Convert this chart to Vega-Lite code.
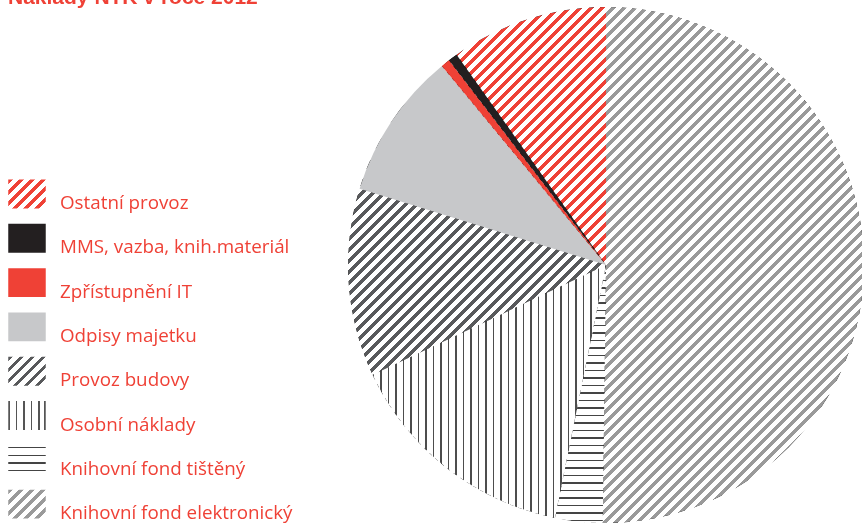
{
"$schema":"https://vega.github.io/schema/vega-lite/v6.json",
"autosize":{"type":"none"},
"padding":{"left":350,"top":7,"right":0,"bottom":1},
"width":512,"height":516,
"background":"white",
"config":{"view":{"stroke":null}},
"title":{"text":"Náklady NTK v roce 2012","anchor":"start","frame":"group","dx":-342,"offset":-18,"font":"Liberation Sans","fontSize":21,"fontWeight":"bold","color":"#ef4136","baseline":"alphabetic"},
"data":{"values":[
{"cat":"Knihovní fond elektronický","pct":50.2,"ord":1},
{"cat":"Knihovní fond tištěný","pct":2.97,"ord":2},
{"cat":"Osobní náklady","pct":14.83,"ord":3},
{"cat":"Provoz budovy","pct":11.78,"ord":4},
{"cat":"Odpisy majetku","pct":9.25,"ord":5},
{"cat":"Zpřístupnění IT","pct":0.56,"ord":6},
{"cat":"MMS, vazba, knih.materiál","pct":0.58,"ord":7},
{"cat":"Ostatní provoz","pct":9.83,"ord":8}
]},
"layer":[
{"transform":[{"filter":"datum.ord == 1"}],
"mark":{"type":"arc","theta":0,"theta2":6.2832,"radius":258,"fill":{"gradient":"linear","x1":0,"y1":0,"x2":1.065891,"y2":1.065891,"stops":[
{"offset":0.13,"color":"#fff"},{"offset":0.13,"color":"#000"},{"offset":0.134,"color":"#000"},{"offset":0.134,"color":"#fff"},
{"offset":0.14,"color":"#fff"},{"offset":0.14,"color":"#000"},{"offset":0.144,"color":"#000"},{"offset":0.144,"color":"#fff"},
{"offset":0.15,"color":"#fff"},{"offset":0.15,"color":"#000"},{"offset":0.154,"color":"#000"},{"offset":0.154,"color":"#fff"},
{"offset":0.16,"color":"#fff"},{"offset":0.16,"color":"#000"},{"offset":0.164,"color":"#000"},{"offset":0.164,"color":"#fff"},
{"offset":0.17,"color":"#fff"},{"offset":0.17,"color":"#000"},{"offset":0.174,"color":"#000"},{"offset":0.174,"color":"#fff"},
{"offset":0.18,"color":"#fff"},{"offset":0.18,"color":"#000"},{"offset":0.184,"color":"#000"},{"offset":0.184,"color":"#fff"},
{"offset":0.19,"color":"#fff"},{"offset":0.19,"color":"#000"},{"offset":0.194,"color":"#000"},{"offset":0.194,"color":"#fff"},
{"offset":0.20,"color":"#fff"},{"offset":0.20,"color":"#000"},{"offset":0.204,"color":"#000"},{"offset":0.204,"color":"#fff"},
{"offset":0.21,"color":"#fff"},{"offset":0.21,"color":"#000"},{"offset":0.214,"color":"#000"},{"offset":0.214,"color":"#fff"},
{"offset":0.22,"color":"#fff"},{"offset":0.22,"color":"#000"},{"offset":0.224,"color":"#000"},{"offset":0.224,"color":"#fff"},
{"offset":0.23,"color":"#fff"},{"offset":0.23,"color":"#000"},{"offset":0.234,"color":"#000"},{"offset":0.234,"color":"#fff"},
{"offset":0.24,"color":"#fff"},{"offset":0.24,"color":"#000"},{"offset":0.244,"color":"#000"},{"offset":0.244,"color":"#fff"},
{"offset":0.25,"color":"#fff"},{"offset":0.25,"color":"#000"},{"offset":0.254,"color":"#000"},{"offset":0.254,"color":"#fff"},
{"offset":0.26,"color":"#fff"},{"offset":0.26,"color":"#000"},{"offset":0.264,"color":"#000"},{"offset":0.264,"color":"#fff"},
{"offset":0.27,"color":"#fff"},{"offset":0.27,"color":"#000"},{"offset":0.274,"color":"#000"},{"offset":0.274,"color":"#fff"},
{"offset":0.28,"color":"#fff"},{"offset":0.28,"color":"#000"},{"offset":0.284,"color":"#000"},{"offset":0.284,"color":"#fff"},
{"offset":0.29,"color":"#fff"},{"offset":0.29,"color":"#000"},{"offset":0.294,"color":"#000"},{"offset":0.294,"color":"#fff"},
{"offset":0.30,"color":"#fff"},{"offset":0.30,"color":"#000"},{"offset":0.304,"color":"#000"},{"offset":0.304,"color":"#fff"},
{"offset":0.31,"color":"#fff"},{"offset":0.31,"color":"#000"},{"offset":0.314,"color":"#000"},{"offset":0.314,"color":"#fff"},
{"offset":0.32,"color":"#fff"},{"offset":0.32,"color":"#000"},{"offset":0.324,"color":"#000"},{"offset":0.324,"color":"#fff"},
{"offset":0.33,"color":"#fff"},{"offset":0.33,"color":"#000"},{"offset":0.334,"color":"#000"},{"offset":0.334,"color":"#fff"},
{"offset":0.34,"color":"#fff"},{"offset":0.34,"color":"#000"},{"offset":0.344,"color":"#000"},{"offset":0.344,"color":"#fff"},
{"offset":0.35,"color":"#fff"},{"offset":0.35,"color":"#000"},{"offset":0.354,"color":"#000"},{"offset":0.354,"color":"#fff"},
{"offset":0.36,"color":"#fff"},{"offset":0.36,"color":"#000"},{"offset":0.364,"color":"#000"},{"offset":0.364,"color":"#fff"},
{"offset":0.37,"color":"#fff"},{"offset":0.37,"color":"#000"},{"offset":0.374,"color":"#000"},{"offset":0.374,"color":"#fff"},
{"offset":0.38,"color":"#fff"},{"offset":0.38,"color":"#000"},{"offset":0.384,"color":"#000"},{"offset":0.384,"color":"#fff"},
{"offset":0.39,"color":"#fff"},{"offset":0.39,"color":"#000"},{"offset":0.394,"color":"#000"},{"offset":0.394,"color":"#fff"},
{"offset":0.40,"color":"#fff"},{"offset":0.40,"color":"#000"},{"offset":0.404,"color":"#000"},{"offset":0.404,"color":"#fff"},
{"offset":0.41,"color":"#fff"},{"offset":0.41,"color":"#000"},{"offset":0.414,"color":"#000"},{"offset":0.414,"color":"#fff"},
{"offset":0.42,"color":"#fff"},{"offset":0.42,"color":"#000"},{"offset":0.424,"color":"#000"},{"offset":0.424,"color":"#fff"},
{"offset":0.43,"color":"#fff"},{"offset":0.43,"color":"#000"},{"offset":0.434,"color":"#000"},{"offset":0.434,"color":"#fff"},
{"offset":0.44,"color":"#fff"},{"offset":0.44,"color":"#000"},{"offset":0.444,"color":"#000"},{"offset":0.444,"color":"#fff"},
{"offset":0.45,"color":"#fff"},{"offset":0.45,"color":"#000"},{"offset":0.454,"color":"#000"},{"offset":0.454,"color":"#fff"},
{"offset":0.46,"color":"#fff"},{"offset":0.46,"color":"#000"},{"offset":0.464,"color":"#000"},{"offset":0.464,"color":"#fff"},
{"offset":0.47,"color":"#fff"},{"offset":0.47,"color":"#000"},{"offset":0.474,"color":"#000"},{"offset":0.474,"color":"#fff"},
{"offset":0.48,"color":"#fff"},{"offset":0.48,"color":"#000"},{"offset":0.484,"color":"#000"},{"offset":0.484,"color":"#fff"},
{"offset":0.49,"color":"#fff"},{"offset":0.49,"color":"#000"},{"offset":0.494,"color":"#000"},{"offset":0.494,"color":"#fff"},
{"offset":0.50,"color":"#fff"},{"offset":0.50,"color":"#000"},{"offset":0.504,"color":"#000"},{"offset":0.504,"color":"#fff"},
{"offset":0.51,"color":"#fff"},{"offset":0.51,"color":"#000"},{"offset":0.514,"color":"#000"},{"offset":0.514,"color":"#fff"},
{"offset":0.52,"color":"#fff"},{"offset":0.52,"color":"#000"},{"offset":0.524,"color":"#000"},{"offset":0.524,"color":"#fff"},
{"offset":0.53,"color":"#fff"},{"offset":0.53,"color":"#000"},{"offset":0.534,"color":"#000"},{"offset":0.534,"color":"#fff"},
{"offset":0.54,"color":"#fff"},{"offset":0.54,"color":"#000"},{"offset":0.544,"color":"#000"},{"offset":0.544,"color":"#fff"},
{"offset":0.55,"color":"#fff"},{"offset":0.55,"color":"#000"},{"offset":0.554,"color":"#000"},{"offset":0.554,"color":"#fff"},
{"offset":0.56,"color":"#fff"},{"offset":0.56,"color":"#000"},{"offset":0.564,"color":"#000"},{"offset":0.564,"color":"#fff"},
{"offset":0.57,"color":"#fff"},{"offset":0.57,"color":"#000"},{"offset":0.574,"color":"#000"},{"offset":0.574,"color":"#fff"},
{"offset":0.58,"color":"#fff"},{"offset":0.58,"color":"#000"},{"offset":0.584,"color":"#000"},{"offset":0.584,"color":"#fff"},
{"offset":0.59,"color":"#fff"},{"offset":0.59,"color":"#000"},{"offset":0.594,"color":"#000"},{"offset":0.594,"color":"#fff"},
{"offset":0.60,"color":"#fff"},{"offset":0.60,"color":"#000"},{"offset":0.604,"color":"#000"},{"offset":0.604,"color":"#fff"},
{"offset":0.61,"color":"#fff"},{"offset":0.61,"color":"#000"},{"offset":0.614,"color":"#000"},{"offset":0.614,"color":"#fff"},
{"offset":0.62,"color":"#fff"},{"offset":0.62,"color":"#000"},{"offset":0.624,"color":"#000"},{"offset":0.624,"color":"#fff"},
{"offset":0.63,"color":"#fff"},{"offset":0.63,"color":"#000"},{"offset":0.634,"color":"#000"},{"offset":0.634,"color":"#fff"},
{"offset":0.64,"color":"#fff"},{"offset":0.64,"color":"#000"},{"offset":0.644,"color":"#000"},{"offset":0.644,"color":"#fff"},
{"offset":0.65,"color":"#fff"},{"offset":0.65,"color":"#000"},{"offset":0.654,"color":"#000"},{"offset":0.654,"color":"#fff"},
{"offset":0.66,"color":"#fff"},{"offset":0.66,"color":"#000"},{"offset":0.664,"color":"#000"},{"offset":0.664,"color":"#fff"},
{"offset":0.67,"color":"#fff"},{"offset":0.67,"color":"#000"},{"offset":0.674,"color":"#000"},{"offset":0.674,"color":"#fff"},
{"offset":0.68,"color":"#fff"},{"offset":0.68,"color":"#000"},{"offset":0.684,"color":"#000"},{"offset":0.684,"color":"#fff"},
{"offset":0.69,"color":"#fff"},{"offset":0.69,"color":"#000"},{"offset":0.694,"color":"#000"},{"offset":0.694,"color":"#fff"},
{"offset":0.70,"color":"#fff"},{"offset":0.70,"color":"#000"},{"offset":0.704,"color":"#000"},{"offset":0.704,"color":"#fff"},
{"offset":0.71,"color":"#fff"},{"offset":0.71,"color":"#000"},{"offset":0.714,"color":"#000"},{"offset":0.714,"color":"#fff"},
{"offset":0.72,"color":"#fff"},{"offset":0.72,"color":"#000"},{"offset":0.724,"color":"#000"},{"offset":0.724,"color":"#fff"},
{"offset":0.73,"color":"#fff"},{"offset":0.73,"color":"#000"},{"offset":0.734,"color":"#000"},{"offset":0.734,"color":"#fff"},
{"offset":0.74,"color":"#fff"},{"offset":0.74,"color":"#000"},{"offset":0.744,"color":"#000"},{"offset":0.744,"color":"#fff"},
{"offset":0.75,"color":"#fff"},{"offset":0.75,"color":"#000"},{"offset":0.754,"color":"#000"},{"offset":0.754,"color":"#fff"},
{"offset":0.76,"color":"#fff"},{"offset":0.76,"color":"#000"},{"offset":0.764,"color":"#000"},{"offset":0.764,"color":"#fff"},
{"offset":0.77,"color":"#fff"},{"offset":0.77,"color":"#000"},{"offset":0.774,"color":"#000"},{"offset":0.774,"color":"#fff"},
{"offset":0.78,"color":"#fff"},{"offset":0.78,"color":"#000"},{"offset":0.784,"color":"#000"},{"offset":0.784,"color":"#fff"},
{"offset":0.79,"color":"#fff"},{"offset":0.79,"color":"#000"},{"offset":0.794,"color":"#000"},{"offset":0.794,"color":"#fff"},
{"offset":0.80,"color":"#fff"},{"offset":0.80,"color":"#000"},{"offset":0.804,"color":"#000"},{"offset":0.804,"color":"#fff"},
{"offset":0.81,"color":"#fff"},{"offset":0.81,"color":"#000"},{"offset":0.814,"color":"#000"},{"offset":0.814,"color":"#fff"}
]}}},
{"mark":{"type":"arc","radius":258,"blend":"lighten"},
"encoding":{
"theta":{"field":"pct","type":"quantitative","stack":true},
"order":{"field":"ord","type":"quantitative"},
"fill":{"condition":[
{"test":"datum.cat === 'Knihovní fond elektronický'","value":"#9a9a9a"},
{"test":"datum.cat === 'Ostatní provoz'","value":"#ef4136"},
{"test":"datum.cat === 'Provoz budovy'","value":"#58595b"}],"value":"#000000"}
}},
{"mark":{"type":"arc","radius":258},
"encoding":{
"theta":{"field":"pct","type":"quantitative","stack":true},
"order":{"field":"ord","type":"quantitative"},
"fill":{"condition":[
{"test":"datum.cat === 'Osobní náklady'","value":{"gradient":"linear","x1":0,"y1":0,"x2":1.28535,"y2":0,"stops":[
{"offset":0,"color":"#4d4d4d"},{"offset":0.005,"color":"#4d4d4d"},{"offset":0.005,"color":"#fff"},
{"offset":0.025,"color":"#fff"},{"offset":0.025,"color":"#4d4d4d"},{"offset":0.03,"color":"#4d4d4d"},{"offset":0.03,"color":"#fff"},
{"offset":0.05,"color":"#fff"},{"offset":0.05,"color":"#4d4d4d"},{"offset":0.055,"color":"#4d4d4d"},{"offset":0.055,"color":"#fff"},
{"offset":0.075,"color":"#fff"},{"offset":0.075,"color":"#4d4d4d"},{"offset":0.08,"color":"#4d4d4d"},{"offset":0.08,"color":"#fff"},
{"offset":0.1,"color":"#fff"},{"offset":0.1,"color":"#4d4d4d"},{"offset":0.105,"color":"#4d4d4d"},{"offset":0.105,"color":"#fff"},
{"offset":0.125,"color":"#fff"},{"offset":0.125,"color":"#4d4d4d"},{"offset":0.13,"color":"#4d4d4d"},{"offset":0.13,"color":"#fff"},
{"offset":0.15,"color":"#fff"},{"offset":0.15,"color":"#4d4d4d"},{"offset":0.155,"color":"#4d4d4d"},{"offset":0.155,"color":"#fff"},
{"offset":0.175,"color":"#fff"},{"offset":0.175,"color":"#4d4d4d"},{"offset":0.18,"color":"#4d4d4d"},{"offset":0.18,"color":"#fff"},
{"offset":0.2,"color":"#fff"},{"offset":0.2,"color":"#4d4d4d"},{"offset":0.205,"color":"#4d4d4d"},{"offset":0.205,"color":"#fff"},
{"offset":0.225,"color":"#fff"},{"offset":0.225,"color":"#4d4d4d"},{"offset":0.23,"color":"#4d4d4d"},{"offset":0.23,"color":"#fff"},
{"offset":0.25,"color":"#fff"},{"offset":0.25,"color":"#4d4d4d"},{"offset":0.255,"color":"#4d4d4d"},{"offset":0.255,"color":"#fff"},
{"offset":0.275,"color":"#fff"},{"offset":0.275,"color":"#4d4d4d"},{"offset":0.28,"color":"#4d4d4d"},{"offset":0.28,"color":"#fff"},
{"offset":0.3,"color":"#fff"},{"offset":0.3,"color":"#4d4d4d"},{"offset":0.305,"color":"#4d4d4d"},{"offset":0.305,"color":"#fff"},
{"offset":0.325,"color":"#fff"},{"offset":0.325,"color":"#4d4d4d"},{"offset":0.33,"color":"#4d4d4d"},{"offset":0.33,"color":"#fff"},
{"offset":0.35,"color":"#fff"},{"offset":0.35,"color":"#4d4d4d"},{"offset":0.355,"color":"#4d4d4d"},{"offset":0.355,"color":"#fff"},
{"offset":0.375,"color":"#fff"},{"offset":0.375,"color":"#4d4d4d"},{"offset":0.38,"color":"#4d4d4d"},{"offset":0.38,"color":"#fff"},
{"offset":0.4,"color":"#fff"},{"offset":0.4,"color":"#4d4d4d"},{"offset":0.405,"color":"#4d4d4d"},{"offset":0.405,"color":"#fff"},
{"offset":0.425,"color":"#fff"},{"offset":0.425,"color":"#4d4d4d"},{"offset":0.43,"color":"#4d4d4d"},{"offset":0.43,"color":"#fff"},
{"offset":0.45,"color":"#fff"},{"offset":0.45,"color":"#4d4d4d"},{"offset":0.455,"color":"#4d4d4d"},{"offset":0.455,"color":"#fff"},
{"offset":0.475,"color":"#fff"},{"offset":0.475,"color":"#4d4d4d"},{"offset":0.48,"color":"#4d4d4d"},{"offset":0.48,"color":"#fff"},
{"offset":0.5,"color":"#fff"},{"offset":0.5,"color":"#4d4d4d"},{"offset":0.505,"color":"#4d4d4d"},{"offset":0.505,"color":"#fff"},
{"offset":0.525,"color":"#fff"},{"offset":0.525,"color":"#4d4d4d"},{"offset":0.53,"color":"#4d4d4d"},{"offset":0.53,"color":"#fff"},
{"offset":0.55,"color":"#fff"},{"offset":0.55,"color":"#4d4d4d"},{"offset":0.555,"color":"#4d4d4d"},{"offset":0.555,"color":"#fff"},
{"offset":0.575,"color":"#fff"},{"offset":0.575,"color":"#4d4d4d"},{"offset":0.58,"color":"#4d4d4d"},{"offset":0.58,"color":"#fff"},
{"offset":0.6,"color":"#fff"},{"offset":0.6,"color":"#4d4d4d"},{"offset":0.605,"color":"#4d4d4d"},{"offset":0.605,"color":"#fff"},
{"offset":0.625,"color":"#fff"},{"offset":0.625,"color":"#4d4d4d"},{"offset":0.63,"color":"#4d4d4d"},{"offset":0.63,"color":"#fff"},
{"offset":0.65,"color":"#fff"},{"offset":0.65,"color":"#4d4d4d"},{"offset":0.655,"color":"#4d4d4d"},{"offset":0.655,"color":"#fff"},
{"offset":0.675,"color":"#fff"},{"offset":0.675,"color":"#4d4d4d"},{"offset":0.68,"color":"#4d4d4d"},{"offset":0.68,"color":"#fff"},
{"offset":0.7,"color":"#fff"},{"offset":0.7,"color":"#4d4d4d"},{"offset":0.705,"color":"#4d4d4d"},{"offset":0.705,"color":"#fff"},
{"offset":0.725,"color":"#fff"},{"offset":0.725,"color":"#4d4d4d"},{"offset":0.73,"color":"#4d4d4d"},{"offset":0.73,"color":"#fff"},
{"offset":0.75,"color":"#fff"},{"offset":0.75,"color":"#4d4d4d"},{"offset":0.755,"color":"#4d4d4d"},{"offset":0.755,"color":"#fff"},
{"offset":0.775,"color":"#fff"},{"offset":0.775,"color":"#4d4d4d"},{"offset":0.78,"color":"#4d4d4d"},{"offset":0.78,"color":"#fff"}
]}},
{"test":"datum.cat === 'Knihovní fond tištěný'","value":{"gradient":"linear","x1":0,"y1":0,"x2":0,"y2":1.16279,"stops":[
{"offset":0,"color":"#444"},{"offset":0.005,"color":"#444"},{"offset":0.005,"color":"#fff"},
{"offset":0.025,"color":"#fff"},{"offset":0.025,"color":"#444"},{"offset":0.03,"color":"#444"},{"offset":0.03,"color":"#fff"},
{"offset":0.05,"color":"#fff"},{"offset":0.05,"color":"#444"},{"offset":0.055,"color":"#444"},{"offset":0.055,"color":"#fff"},
{"offset":0.075,"color":"#fff"},{"offset":0.075,"color":"#444"},{"offset":0.08,"color":"#444"},{"offset":0.08,"color":"#fff"},
{"offset":0.1,"color":"#fff"},{"offset":0.1,"color":"#444"},{"offset":0.105,"color":"#444"},{"offset":0.105,"color":"#fff"},
{"offset":0.125,"color":"#fff"},{"offset":0.125,"color":"#444"},{"offset":0.13,"color":"#444"},{"offset":0.13,"color":"#fff"},
{"offset":0.15,"color":"#fff"},{"offset":0.15,"color":"#444"},{"offset":0.155,"color":"#444"},{"offset":0.155,"color":"#fff"},
{"offset":0.175,"color":"#fff"},{"offset":0.175,"color":"#444"},{"offset":0.18,"color":"#444"},{"offset":0.18,"color":"#fff"},
{"offset":0.2,"color":"#fff"},{"offset":0.2,"color":"#444"},{"offset":0.205,"color":"#444"},{"offset":0.205,"color":"#fff"},
{"offset":0.225,"color":"#fff"},{"offset":0.225,"color":"#444"},{"offset":0.23,"color":"#444"},{"offset":0.23,"color":"#fff"},
{"offset":0.25,"color":"#fff"},{"offset":0.25,"color":"#444"},{"offset":0.255,"color":"#444"},{"offset":0.255,"color":"#fff"},
{"offset":0.275,"color":"#fff"},{"offset":0.275,"color":"#444"},{"offset":0.28,"color":"#444"},{"offset":0.28,"color":"#fff"},
{"offset":0.3,"color":"#fff"},{"offset":0.3,"color":"#444"},{"offset":0.305,"color":"#444"},{"offset":0.305,"color":"#fff"},
{"offset":0.325,"color":"#fff"},{"offset":0.325,"color":"#444"},{"offset":0.33,"color":"#444"},{"offset":0.33,"color":"#fff"},
{"offset":0.35,"color":"#fff"},{"offset":0.35,"color":"#444"},{"offset":0.355,"color":"#444"},{"offset":0.355,"color":"#fff"},
{"offset":0.375,"color":"#fff"},{"offset":0.375,"color":"#444"},{"offset":0.38,"color":"#444"},{"offset":0.38,"color":"#fff"},
{"offset":0.4,"color":"#fff"},{"offset":0.4,"color":"#444"},{"offset":0.405,"color":"#444"},{"offset":0.405,"color":"#fff"},
{"offset":0.425,"color":"#fff"},{"offset":0.425,"color":"#444"},{"offset":0.43,"color":"#444"},{"offset":0.43,"color":"#fff"},
{"offset":0.45,"color":"#fff"},{"offset":0.45,"color":"#444"},{"offset":0.455,"color":"#444"},{"offset":0.455,"color":"#fff"},
{"offset":0.475,"color":"#fff"},{"offset":0.475,"color":"#444"},{"offset":0.48,"color":"#444"},{"offset":0.48,"color":"#fff"},
{"offset":0.5,"color":"#fff"},{"offset":0.5,"color":"#444"},{"offset":0.505,"color":"#444"},{"offset":0.505,"color":"#fff"},
{"offset":0.525,"color":"#fff"},{"offset":0.525,"color":"#444"},{"offset":0.53,"color":"#444"},{"offset":0.53,"color":"#fff"},
{"offset":0.55,"color":"#fff"},{"offset":0.55,"color":"#444"},{"offset":0.555,"color":"#444"},{"offset":0.555,"color":"#fff"},
{"offset":0.575,"color":"#fff"},{"offset":0.575,"color":"#444"},{"offset":0.58,"color":"#444"},{"offset":0.58,"color":"#fff"},
{"offset":0.6,"color":"#fff"},{"offset":0.6,"color":"#444"},{"offset":0.605,"color":"#444"},{"offset":0.605,"color":"#fff"},
{"offset":0.625,"color":"#fff"},{"offset":0.625,"color":"#444"},{"offset":0.63,"color":"#444"},{"offset":0.63,"color":"#fff"},
{"offset":0.65,"color":"#fff"},{"offset":0.65,"color":"#444"},{"offset":0.655,"color":"#444"},{"offset":0.655,"color":"#fff"},
{"offset":0.675,"color":"#fff"},{"offset":0.675,"color":"#444"},{"offset":0.68,"color":"#444"},{"offset":0.68,"color":"#fff"},
{"offset":0.7,"color":"#fff"},{"offset":0.7,"color":"#444"},{"offset":0.705,"color":"#444"},{"offset":0.705,"color":"#fff"},
{"offset":0.725,"color":"#fff"},{"offset":0.725,"color":"#444"},{"offset":0.73,"color":"#444"},{"offset":0.73,"color":"#fff"},
{"offset":0.75,"color":"#fff"},{"offset":0.75,"color":"#444"},{"offset":0.755,"color":"#444"},{"offset":0.755,"color":"#fff"},
{"offset":0.775,"color":"#fff"},{"offset":0.775,"color":"#444"},{"offset":0.78,"color":"#444"},{"offset":0.78,"color":"#fff"},
{"offset":0.8,"color":"#fff"},{"offset":0.8,"color":"#444"},{"offset":0.805,"color":"#444"},{"offset":0.805,"color":"#fff"},
{"offset":0.825,"color":"#fff"},{"offset":0.825,"color":"#444"},{"offset":0.83,"color":"#444"},{"offset":0.83,"color":"#fff"},
{"offset":0.85,"color":"#fff"},{"offset":0.85,"color":"#444"},{"offset":0.855,"color":"#444"},{"offset":0.855,"color":"#fff"}
]}},
{"test":"datum.cat === 'Odpisy majetku'","value":"#c7c8ca"},
{"test":"datum.cat === 'Zpřístupnění IT'","value":"#ef4136"},
{"test":"datum.cat === 'MMS, vazba, knih.materiál'","value":"#231f20"}],"value":"transparent"}
}},
{"mark":{"type":"arc","radius":0},
"encoding":{
"fill":{"condition":[
{"test":"datum.cat === 'Ostatní provoz'","value":{"id":"legOst","gradient":"linear","x1":0,"y1":0,"x2":1.28906,"y2":0.99258,"stops":[{"offset":0,"color":"#ef4136"},{"offset":0.0571,"color":"#ef4136"},{"offset":0.0571,"color":"#fff"},{"offset":0.1429,"color":"#fff"},{"offset":0.1429,"color":"#ef4136"},{"offset":0.2,"color":"#ef4136"},{"offset":0.2,"color":"#fff"},{"offset":0.2857,"color":"#fff"},{"offset":0.2857,"color":"#ef4136"},{"offset":0.3429,"color":"#ef4136"},{"offset":0.3429,"color":"#fff"},{"offset":0.4286,"color":"#fff"},{"offset":0.4286,"color":"#ef4136"},{"offset":0.4857,"color":"#ef4136"},{"offset":0.4857,"color":"#fff"},{"offset":0.5714,"color":"#fff"},{"offset":0.5714,"color":"#ef4136"},{"offset":0.6286,"color":"#ef4136"},{"offset":0.6286,"color":"#fff"},{"offset":0.7143,"color":"#fff"},{"offset":0.7143,"color":"#ef4136"},{"offset":0.7714,"color":"#ef4136"},{"offset":0.7714,"color":"#fff"}]}},
{"test":"datum.cat === 'Provoz budovy'","value":{"id":"legProv","gradient":"linear","x1":0,"y1":0,"x2":1.28906,"y2":0.99258,"stops":[{"offset":0,"color":"#58595b"},{"offset":0.0571,"color":"#58595b"},{"offset":0.0571,"color":"#fff"},{"offset":0.1429,"color":"#fff"},{"offset":0.1429,"color":"#58595b"},{"offset":0.2,"color":"#58595b"},{"offset":0.2,"color":"#fff"},{"offset":0.2857,"color":"#fff"},{"offset":0.2857,"color":"#58595b"},{"offset":0.3429,"color":"#58595b"},{"offset":0.3429,"color":"#fff"},{"offset":0.4286,"color":"#fff"},{"offset":0.4286,"color":"#58595b"},{"offset":0.4857,"color":"#58595b"},{"offset":0.4857,"color":"#fff"},{"offset":0.5714,"color":"#fff"},{"offset":0.5714,"color":"#58595b"},{"offset":0.6286,"color":"#58595b"},{"offset":0.6286,"color":"#fff"},{"offset":0.7143,"color":"#fff"},{"offset":0.7143,"color":"#58595b"},{"offset":0.7714,"color":"#58595b"},{"offset":0.7714,"color":"#fff"}]}},
{"test":"datum.cat === 'Osobní náklady'","value":{"id":"legOsob","gradient":"linear","x1":0,"y1":0,"x2":1,"y2":0,"stops":[{"offset":0,"color":"#555"},{"offset":0.04,"color":"#555"},{"offset":0.04,"color":"#fff"},{"offset":0.2,"color":"#fff"},{"offset":0.2,"color":"#555"},{"offset":0.24,"color":"#555"},{"offset":0.24,"color":"#fff"},{"offset":0.4,"color":"#fff"},{"offset":0.4,"color":"#555"},{"offset":0.44,"color":"#555"},{"offset":0.44,"color":"#fff"},{"offset":0.6,"color":"#fff"},{"offset":0.6,"color":"#555"},{"offset":0.64,"color":"#555"},{"offset":0.64,"color":"#fff"},{"offset":0.8,"color":"#fff"},{"offset":0.8,"color":"#555"},{"offset":0.84,"color":"#555"},{"offset":0.84,"color":"#fff"},{"offset":0.96,"color":"#fff"},{"offset":0.96,"color":"#555"},{"offset":1,"color":"#555"}]}},
{"test":"datum.cat === 'Knihovní fond tištěný'","value":{"id":"legTist","gradient":"linear","x1":0,"y1":0,"x2":0,"y2":1,"stops":[{"offset":0.05,"color":"#fff"},{"offset":0.05,"color":"#444"},{"offset":0.1,"color":"#444"},{"offset":0.1,"color":"#fff"},{"offset":0.317,"color":"#fff"},{"offset":0.317,"color":"#444"},{"offset":0.367,"color":"#444"},{"offset":0.367,"color":"#fff"},{"offset":0.583,"color":"#fff"},{"offset":0.583,"color":"#444"},{"offset":0.633,"color":"#444"},{"offset":0.633,"color":"#fff"},{"offset":0.85,"color":"#fff"},{"offset":0.85,"color":"#444"},{"offset":0.9,"color":"#444"},{"offset":0.9,"color":"#fff"}]}},
{"test":"datum.cat === 'Knihovní fond elektronický'","value":{"id":"legElek","gradient":"linear","x1":0,"y1":0,"x2":1.28906,"y2":0.99258,"stops":[{"offset":0,"color":"#9a9a9a"},{"offset":0.0571,"color":"#9a9a9a"},{"offset":0.0571,"color":"#fff"},{"offset":0.1429,"color":"#fff"},{"offset":0.1429,"color":"#9a9a9a"},{"offset":0.2,"color":"#9a9a9a"},{"offset":0.2,"color":"#fff"},{"offset":0.2857,"color":"#fff"},{"offset":0.2857,"color":"#9a9a9a"},{"offset":0.3429,"color":"#9a9a9a"},{"offset":0.3429,"color":"#fff"},{"offset":0.4286,"color":"#fff"},{"offset":0.4286,"color":"#9a9a9a"},{"offset":0.4857,"color":"#9a9a9a"},{"offset":0.4857,"color":"#fff"},{"offset":0.5714,"color":"#fff"},{"offset":0.5714,"color":"#9a9a9a"},{"offset":0.6286,"color":"#9a9a9a"},{"offset":0.6286,"color":"#fff"},{"offset":0.7143,"color":"#fff"},{"offset":0.7143,"color":"#9a9a9a"},{"offset":0.7714,"color":"#9a9a9a"},{"offset":0.7714,"color":"#fff"}]}}
],
"field":"cat","type":"nominal",
"scale":{"domain":["Ostatní provoz","MMS, vazba, knih.materiál","Zpřístupnění IT","Odpisy majetku","Provoz budovy","Osobní náklady","Knihovní fond tištěný","Knihovní fond elektronický"],
"range":["url(#legOst)","#231f20","#ef4136","#c7c8ca","url(#legProv)","url(#legOsob)","url(#legTist)","url(#legElek)"]},
"legend":{"orient":"none","legendX":-342,"legendY":168,"title":null,"symbolType":"M-1,-0.77H1V0.77H-1Z","symbolSize":1406,"symbolStrokeWidth":0,"labelFont":"Open Sans","labelFontSize":18.8,"labelColor":"#ef4136","labelOffset":14,"labelBaseline":"top","labelLimit":400,"rowPadding":6.3,"padding":0}}
}}
]
}
